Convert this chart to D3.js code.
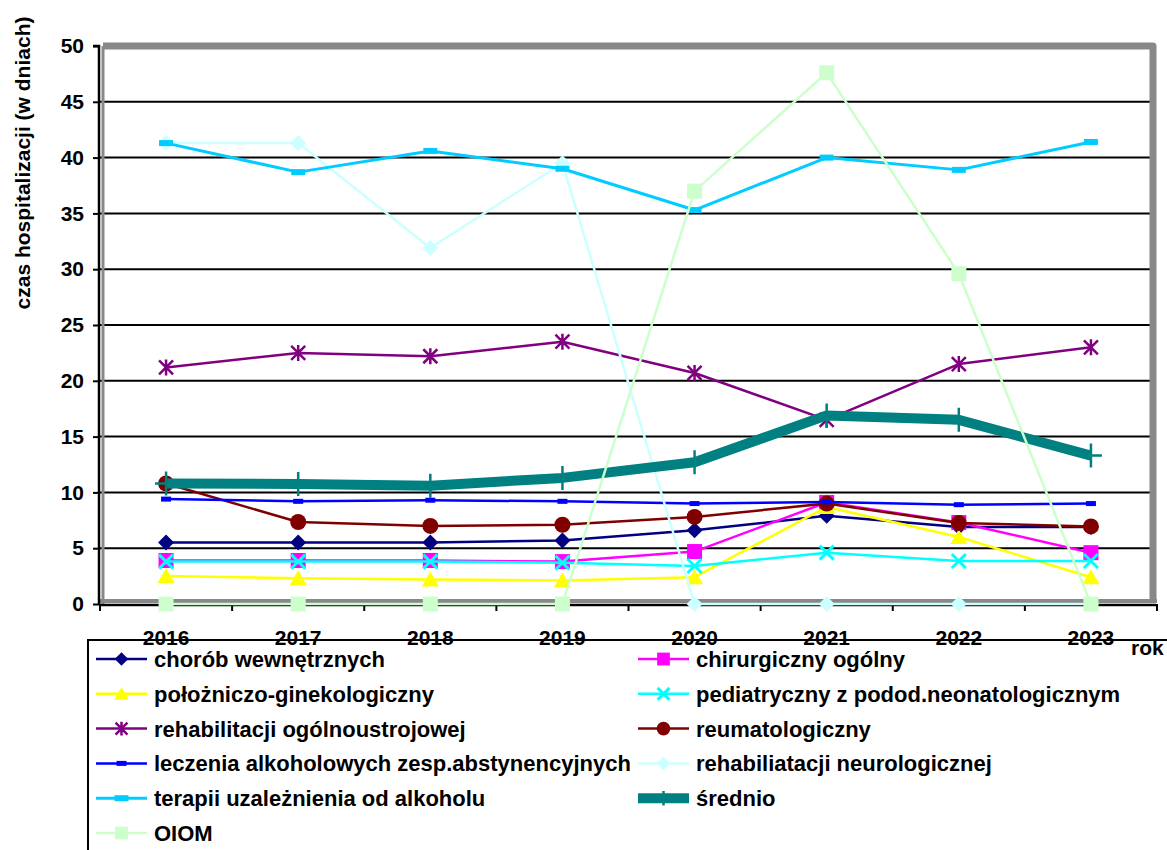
<!DOCTYPE html>
<html>
<head>
<meta charset="utf-8">
<script src="https://cdn.jsdelivr.net/npm/d3@7"></script>
<style>
  body { margin: 0; background: #fff; }
  svg { display: block; font-family: "Liberation Sans", Arial, sans-serif; font-weight: bold; }
</style>
</head>
<body>
<div id="chart"></div>
<script>
// data
const years = ["2016", "2017", "2018", "2019", "2020", "2021", "2022", "2023"];
const yTicks = [0, 5, 10, 15, 20, 25, 30, 35, 40, 45, 50];

const chorobWewn    = [5.5, 5.5, 5.5, 5.7, 6.6, 7.9, 6.9, 6.9];
const chirurgiczny  = [3.9, 3.9, 3.9, 3.8, 4.7, 9.1, 7.3, 4.6];
const polozniczo    = [2.5, 2.3, 2.2, 2.1, 2.4, 8.7, 6.0, 2.4];
const pediatryczny  = [3.8, 3.8, 3.8, 3.7, 3.4, 4.6, 3.85, 3.85];
const rehabOgolna   = [21.2, 22.5, 22.2, 23.5, 20.7, 16.5, 21.5, 23.0];
const reumatolog    = [10.8, 7.35, 7.0, 7.1, 7.8, 9.0, 7.25, 6.95];
const leczenieAlk   = [9.4, 9.2, 9.3, 9.2, 9.0, 9.15, 8.9, 9.0];
const rehabNeuro    = [41.3, 41.3, 31.9, 39.5, 0, 0, 0, 0];
const terapiaAlk    = [41.3, 38.7, 40.6, 39.0, 35.3, 40.0, 38.9, 41.4];
const srednio       = [10.8, 10.75, 10.6, 11.3, 12.7, 16.9, 16.5, 13.3];
const oiom          = [0, 0, 0, 0, 37.0, 47.6, 29.6, 0];

const seriesNames = [
  "chorób wewnętrznych", "chirurgiczny ogólny", "położniczo-ginekologiczny",
  "pediatryczny z podod.neonatologicznym", "rehabilitacji ogólnoustrojowej",
  "reumatologiczny", "leczenia alkoholowych zesp.abstynencyjnych",
  "rehabiliatacji neurologicznej", "terapii uzależnienia od alkoholu",
  "średnio", "OIOM"
];

const series = [
  { name: seriesNames[0],  values: chorobWewn,   color: "#000080", width: 2.5, marker: "diamond" },
  { name: seriesNames[1],  values: chirurgiczny, color: "#FF00FF", width: 2.5, marker: "square" },
  { name: seriesNames[2],  values: polozniczo,   color: "#FFFF00", width: 2.5, marker: "triangle" },
  { name: seriesNames[3],  values: pediatryczny, color: "#00FFFF", width: 2.5, marker: "x" },
  { name: seriesNames[4],  values: rehabOgolna,  color: "#800080", width: 2.5, marker: "asterisk" },
  { name: seriesNames[5],  values: reumatolog,   color: "#800000", width: 2.5, marker: "circle" },
  { name: seriesNames[6],  values: leczenieAlk,  color: "#0000FF", width: 2.5, marker: "dashSmall" },
  { name: seriesNames[7],  values: rehabNeuro,   color: "#CCFFFF", width: 2.5, marker: "diamond" },
  { name: seriesNames[8],  values: terapiaAlk,   color: "#00CCFF", width: 3, marker: "dash" },
  { name: seriesNames[9],  values: srednio,      color: "#008080", width: 10, marker: "plus" },
  { name: seriesNames[10], values: oiom,         color: "#CCFFCC", width: 2.5, marker: "square" }
];

const width = 1167, height = 850;
const margin = { top: 46, right: 10, bottom: 246, left: 100 };
const fontAxis = "21px", fontLegend = "22px";

const svg = d3.select("#chart").append("svg")
  .attr("width", width).attr("height", height)
  .attr("viewBox", [0, 0, width, height]);

const x = d3.scaleBand()
  .domain(years)
  .range([margin.left, width - margin.right])
  .padding(0);

const y = d3.scaleLinear()
  .domain([0, 50])
  .range([height - margin.bottom, margin.top]);

const cx = d => x(d) + x.bandwidth() / 2;
const x0 = x.range()[0], x1 = x.range()[1];

/* horizontal gridlines */
svg.append("g")
  .selectAll("line")
  .data(yTicks.filter(t => t > 0 && t < 50))
  .join("line")
  .attr("x1", x0).attr("x2", x1 - 4)
  .attr("y1", d => y(d)).attr("y2", d => y(d))
  .attr("stroke", "#000").attr("stroke-width", 2);

/* gray frame: top, right, left wall, floor */
svg.append("path")
  .attr("d", `M${x0 + 3},${y(50)} L${x1 - 4},${y(50)} L${x1 - 4},${y(0) - 2}`)
  .attr("fill", "none").attr("stroke", "#888").attr("stroke-width", 7)
  .attr("stroke-linejoin", "round");
svg.append("line")
  .attr("x1", x0 + 3).attr("x2", x0 + 3).attr("y1", y(50)).attr("y2", y(0))
  .attr("stroke", "#888").attr("stroke-width", 3);
svg.append("line")
  .attr("x1", x0).attr("x2", x1).attr("y1", y(0) - 3).attr("y2", y(0) - 3)
  .attr("stroke", "#888").attr("stroke-width", 4);

/* y axis */
const yAxis = svg.append("g")
  .attr("transform", `translate(${x0 - 1},0)`)
  .call(d3.axisLeft(y).tickValues(yTicks).tickSize(6).tickPadding(9));
yAxis.select(".domain").attr("stroke-width", 2.5).attr("d", `M-6,${y(50)}H0V${y(0) + 1}`);
yAxis.selectAll(".tick line").attr("stroke-width", 2);
yAxis.selectAll(".tick text")
  .attr("fill", "#000")
  .style("font-size", fontAxis).style("font-family", "Liberation Sans, Arial, sans-serif")
  .style("font-weight", "bold");

/* x axis line with ticks between categories */
svg.append("line")
  .attr("x1", x0 - 1).attr("x2", x1 - 1).attr("y1", y(0) + 1).attr("y2", y(0) + 1)
  .attr("stroke", "#000").attr("stroke-width", 2.5);
svg.append("g")
  .selectAll("line")
  .data(d3.range(years.length + 1))
  .join("line")
  .attr("x1", i => x0 + i * x.step()).attr("x2", i => x0 + i * x.step())
  .attr("y1", y(0)).attr("y2", y(0) + 7)
  .attr("stroke", "#000").attr("stroke-width", 2);

/* marker shapes */
function drawMarker(g, type, color, px, py, s) {
  const k = s || 1;
  if (type === "diamond") {
    g.append("path").attr("d", `M${px},${py - 8 * k}L${px + 8 * k},${py}L${px},${py + 8 * k}L${px - 8 * k},${py}Z`)
      .attr("fill", color);
  } else if (type === "square") {
    g.append("rect").attr("x", px - 7.5 * k).attr("y", py - 7.5 * k)
      .attr("width", 15 * k).attr("height", 15 * k).attr("fill", color);
  } else if (type === "triangle") {
    g.append("path").attr("d", `M${px},${py - 8 * k}L${px + 8.5 * k},${py + 7 * k}L${px - 8.5 * k},${py + 7 * k}Z`)
      .attr("fill", color);
  } else if (type === "x") {
    const r = 7 * k;
    g.append("path").attr("d", `M${px - r},${py - r}L${px + r},${py + r}M${px - r},${py + r}L${px + r},${py - r}`)
      .attr("stroke", color).attr("stroke-width", 3).attr("fill", "none");
  } else if (type === "asterisk") {
    const r = 7 * k;
    g.append("path").attr("d", `M${px - r},${py - r}L${px + r},${py + r}M${px - r},${py + r}L${px + r},${py - r}M${px},${py - r - 1}L${px},${py + r + 1}`)
      .attr("stroke", color).attr("stroke-width", 2.5).attr("fill", "none");
  } else if (type === "circle") {
    g.append("circle").attr("cx", px).attr("cy", py).attr("r", 8 * k).attr("fill", color);
  } else if (type === "dashSmall") {
    g.append("rect").attr("x", px - 5).attr("y", py - 2.5).attr("width", 10).attr("height", 5).attr("fill", color);
  } else if (type === "dash") {
    g.append("rect").attr("x", px - 7).attr("y", py - 3).attr("width", 14).attr("height", 6).attr("fill", color);
  } else if (type === "plus") {
    g.append("path").attr("d", `M${px},${py - 12 * k}L${px},${py + 12 * k}M${px - 11 * k},${py}L${px + 11 * k},${py}`)
      .attr("stroke", color).attr("stroke-width", 2.5).attr("fill", "none");
  }
}

const line = d3.line()
  .x((d, i) => cx(years[i]))
  .y(d => y(d));

/* series */
series.forEach(s => {
  const g = svg.append("g").attr("class", "series");
  g.append("path")
    .datum(s.values)
    .attr("d", line)
    .attr("fill", "none")
    .attr("stroke", s.color)
    .attr("stroke-width", s.width)
    .attr("stroke-linejoin", "round");
  s.values.forEach((v, i) => drawMarker(g, s.marker, s.color, cx(years[i]), y(v)));
});

/* y axis title */
svg.append("text")
  .attr("transform", `translate(30,${163}) rotate(-90)`)
  .attr("text-anchor", "middle")
  .style("font-size", fontAxis)
  .text("czas hospitalizacji (w dniach)");

/* legend box */
const legendTop = 640;
svg.append("rect")
  .attr("x", 88).attr("y", legendTop)
  .attr("width", width).attr("height", 300)
  .attr("fill", "#fff").attr("stroke", "#000").attr("stroke-width", 2);

/* x labels, drawn over the legend border as in the reference */
svg.append("g")
  .selectAll("text")
  .data(years)
  .join("text")
  .attr("x", d => cx(d))
  .attr("y", 645)
  .attr("text-anchor", "middle")
  .style("font-size", fontAxis)
  .text(d => d);

svg.append("text")
  .attr("x", 1131).attr("y", 655)
  .style("font-size", fontAxis)
  .text("rok");

/* legend entries */
const colX = [96, 638];
const rowY0 = 659, rowStep = 34.8;
series.forEach((s, i) => {
  const col = i % 2, row = Math.floor(i / 2);
  const lx = colX[col], ly = rowY0 + row * rowStep;
  const g = svg.append("g").attr("class", "legend-item");
  g.append("line")
    .attr("x1", lx).attr("x2", lx + 51)
    .attr("y1", ly).attr("y2", ly)
    .attr("stroke", s.color).attr("stroke-width", s.width);
  drawMarker(g, s.marker, s.color, lx + 25.5, ly, s.marker === "plus" ? 0.6 : 0.85);
  g.append("text")
    .attr("x", lx + 58).attr("y", ly)
    .attr("dy", "0.36em")
    .style("font-size", fontLegend)
    .text(s.name);
});
</script>
</body>
</html>
